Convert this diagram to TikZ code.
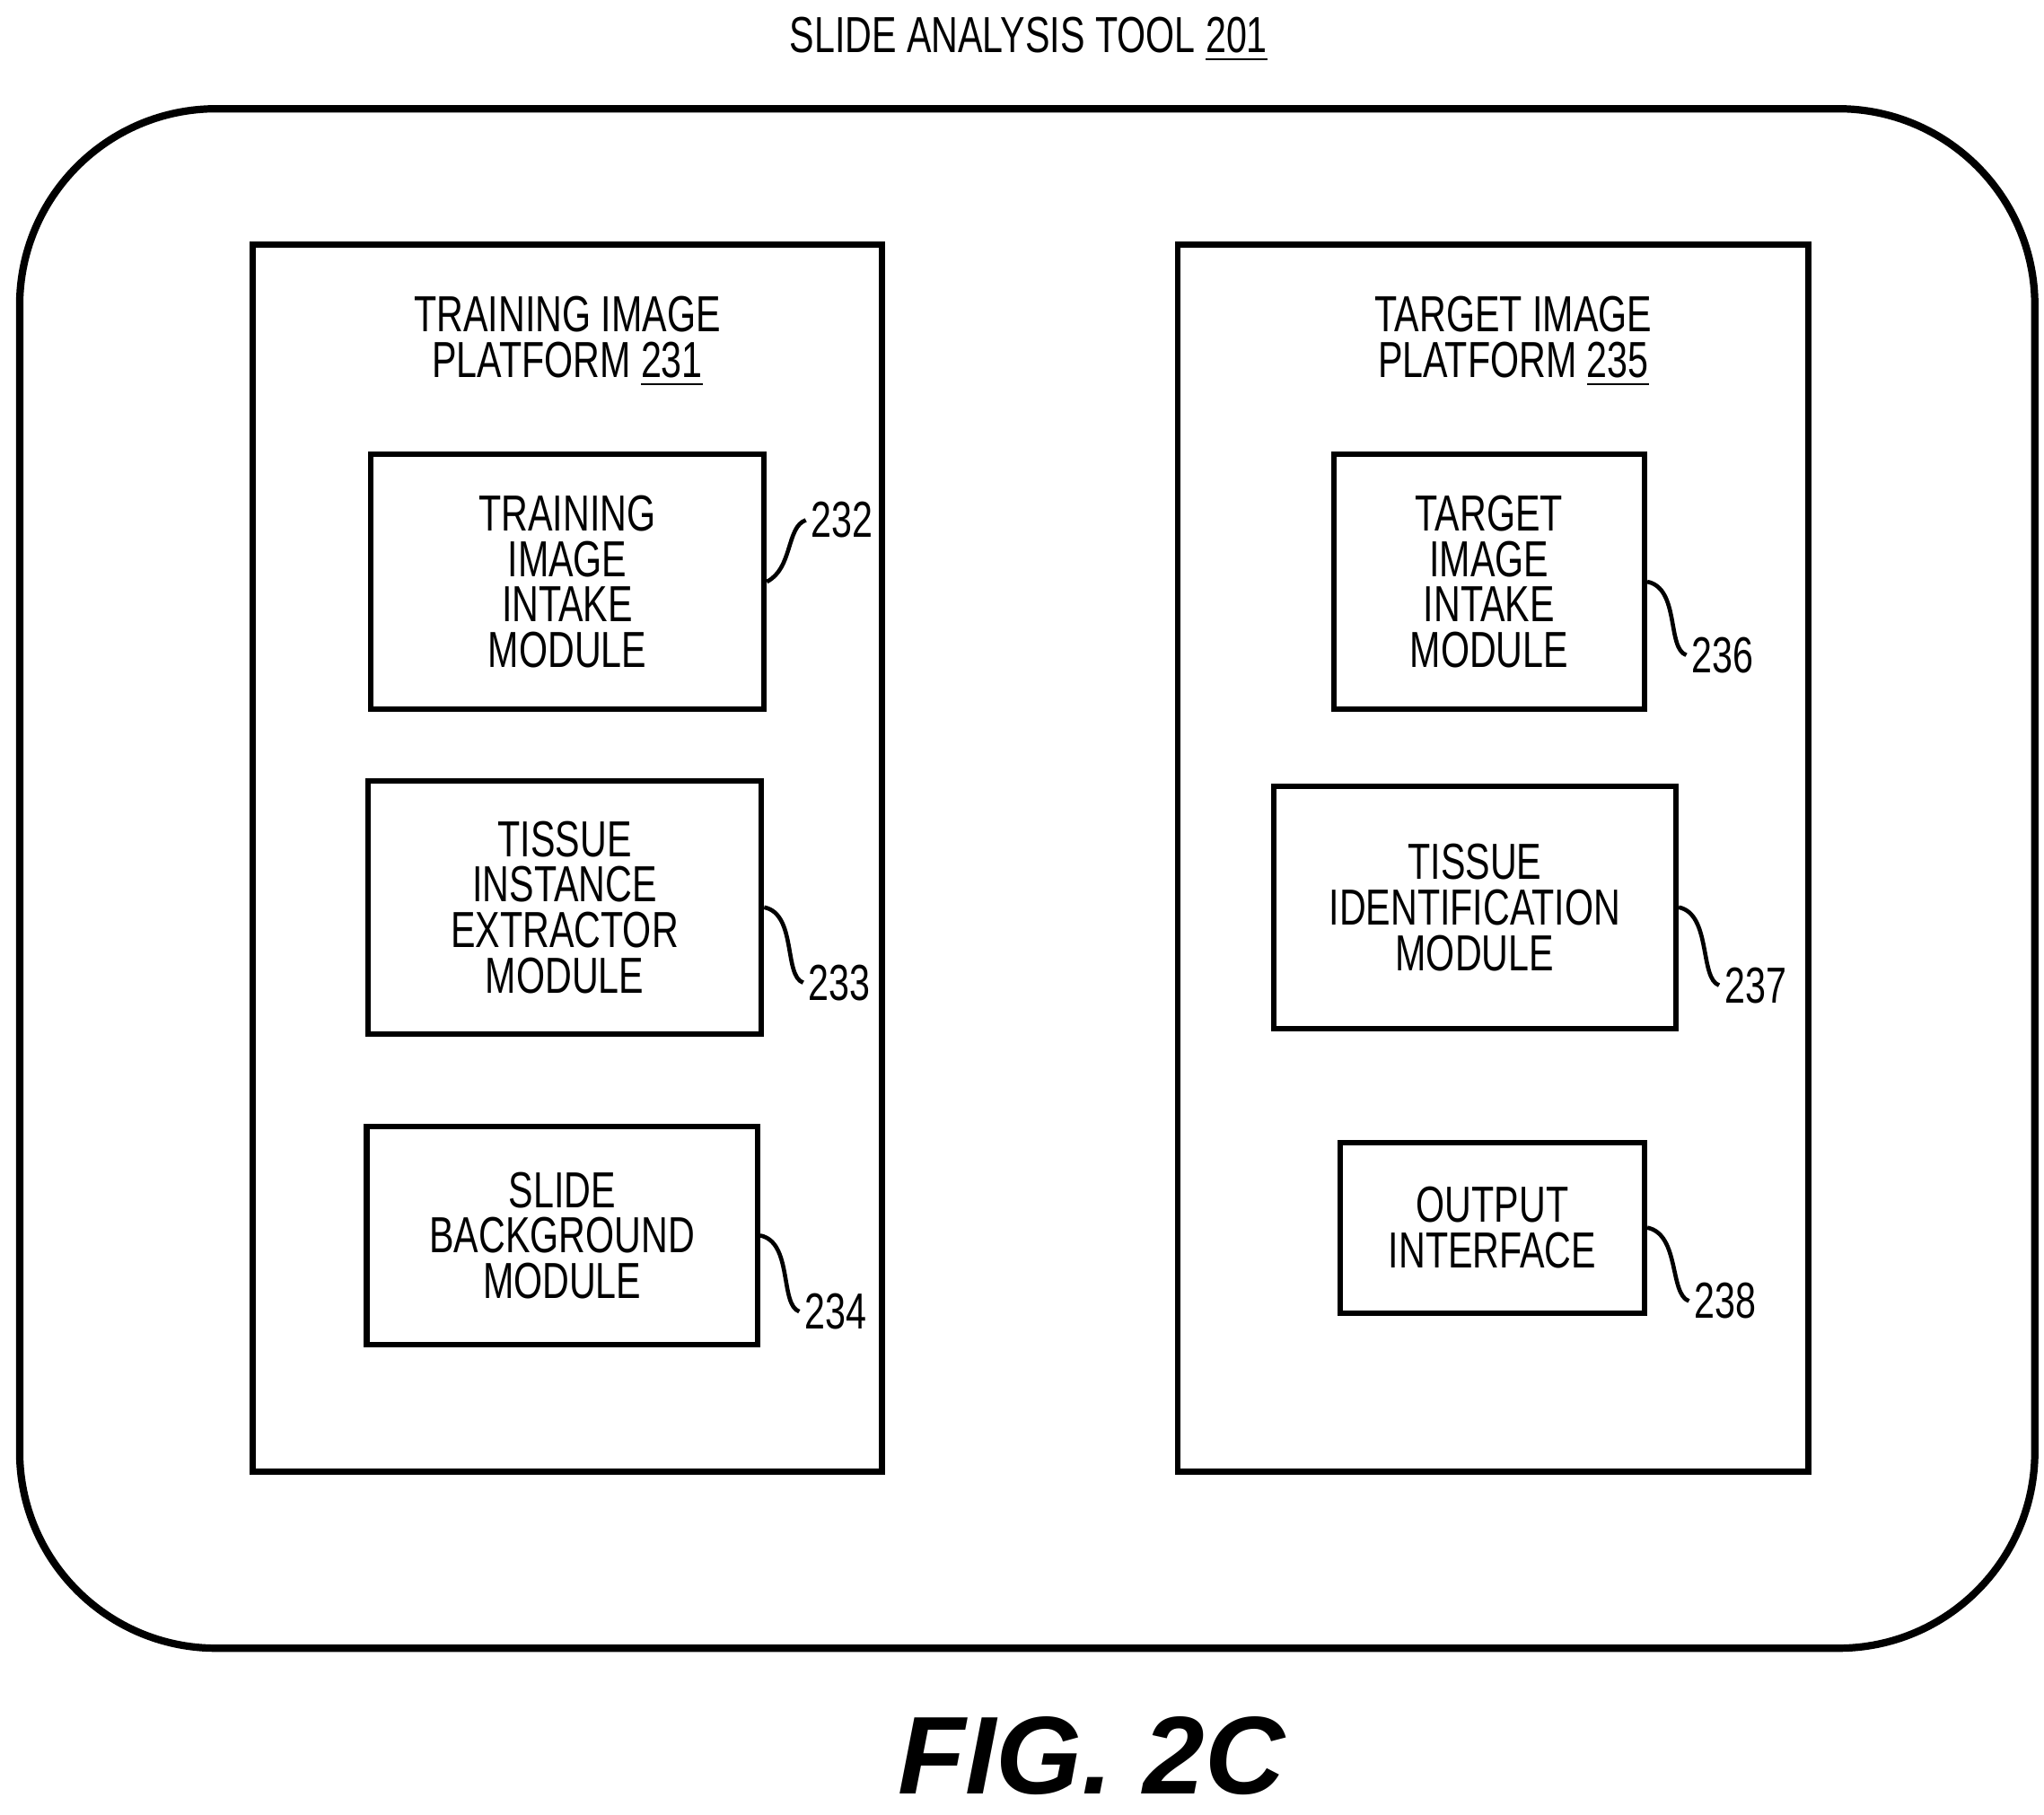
\documentclass[tikz,border=0pt]{standalone}
\usepackage{fontspec}
\setmainfont{Liberation Sans}[FakeStretch=0.73]
\newfontfamily\figfont{Liberation Sans}
\begin{document}
\begin{tikzpicture}[x=0.01cm,y=-0.01cm,
  box/.style={draw,line width=1.2pt,align=center,font=\fontsize{11}{9.9}\selectfont,inner sep=0pt},
  lbl/.style={font=\fontsize{11}{9.9}\selectfont,inner sep=1pt},
  lead/.style={line width=0.9pt}]
\useasboundingbox (0,0) rectangle (1560,1385);
\node[lbl] (title) at (785,30) {SLIDE ANALYSIS TOOL \underline{201}};
\draw[line width=1.6pt,rounded corners=1.5cm] (15,83) rectangle (1553,1258);
\node[box,minimum width=4.80cm,minimum height=9.36cm] (p231) at (433,655) {};
\node[box,minimum width=4.81cm,minimum height=9.36cm] (p235) at (1139.5,655) {};
\node[lbl,align=center] (t231) at (433,261) {TRAINING IMAGE\\PLATFORM \underline{231}};
\node[lbl,align=center] (t235) at (1155,261) {TARGET IMAGE\\PLATFORM \underline{235}};
\node[box,minimum width=3.00cm,minimum height=1.94cm] (m232) at (433,444) {TRAINING\\IMAGE\\INTAKE\\MODULE};
\node[box,minimum width=3.00cm,minimum height=1.93cm] (m233) at (431,692.5) {TISSUE\\INSTANCE\\EXTRACTOR\\MODULE};
\node[box,minimum width=2.98cm,minimum height=1.66cm] (m234) at (429,943) {SLIDE\\BACKGROUND\\MODULE};
\node[box,minimum width=2.37cm,minimum height=1.94cm] (m236) at (1136.5,444) {TARGET\\IMAGE\\INTAKE\\MODULE};
\node[box,minimum width=3.07cm,minimum height=1.85cm] (m237) at (1125.5,692.5) {TISSUE\\IDENTIFICATION\\MODULE};
\node[box,minimum width=2.32cm,minimum height=1.30cm] (m238) at (1139,937) {OUTPUT\\INTERFACE};
\node[lbl,anchor=west] (n232) at (615,397) {232};
\node[lbl,anchor=west] (n233) at (613,750) {233};
\node[lbl,anchor=west] (n234) at (610,1001) {234};
\node[lbl,anchor=west] (n236) at (1287,500) {236};
\node[lbl,anchor=west] (n237) at (1312,752) {237};
\node[lbl,anchor=west] (n238) at (1289,993) {238};
\draw[lead] (m232.east) .. controls +(20,-10) and +(-15,5) .. (n232.west);
\draw[lead] (m233.east) .. controls +(25,5) and +(-15,-5) .. (n233.west);
\draw[lead] (m234.east) .. controls +(25,5) and +(-15,-5) .. (n234.west);
\draw[lead] (m236.east) .. controls +(25,5) and +(-15,-5) .. (n236.west);
\draw[lead] (m237.east) .. controls +(25,5) and +(-15,-5) .. (n237.west);
\draw[lead] (m238.east) .. controls +(25,5) and +(-15,-5) .. (n238.west);
\node[font=\figfont\fontsize{24}{28}\selectfont\bfseries\itshape] (fig) at (833,1340) {FIG. 2C};
\end{tikzpicture}
\end{document}
